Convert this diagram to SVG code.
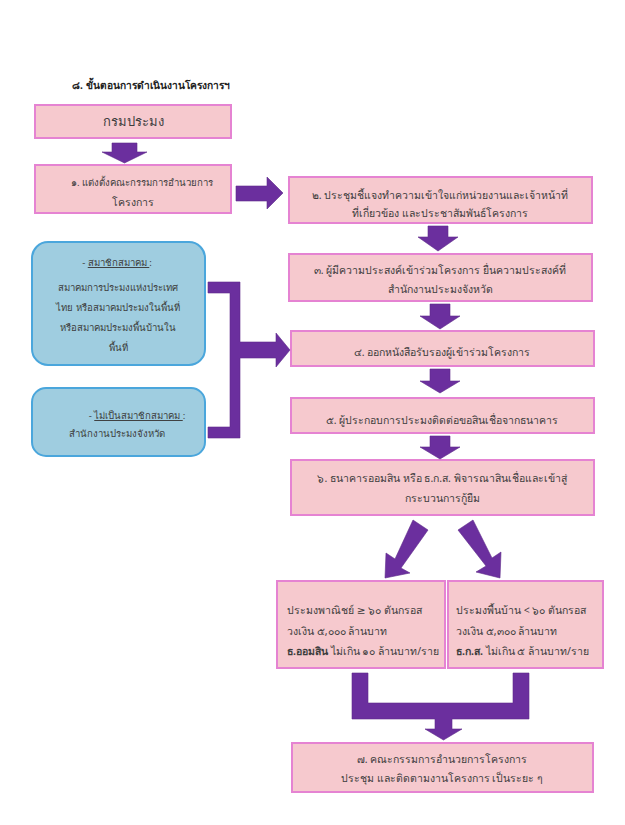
<svg xmlns="http://www.w3.org/2000/svg" width="625" height="825" viewBox="0 0 625 825">
<style>
.pk{fill:#f6c9ce;stroke:#e583d2;stroke-width:2}
.bl{fill:#9fcde0;stroke:#4aa6dc;stroke-width:2}
.ar{fill:#6b2f9e;stroke:#5e2a8a;stroke-width:0.6}
text{font-family:"Noto Sans","DejaVu Sans",sans-serif;fill:#3d3d3d;font-size:10.5px}
.c{text-anchor:middle}
.t{font-weight:bold;font-size:10.2px;fill:#222}
.u{text-decoration:underline}
.b{font-weight:bold}
.s{font-size:9.6px}
</style>
<rect width="625" height="825" fill="#ffffff"/>
<text class="t" x="72" y="89">๘. ขั้นตอนการดำเนินงานโครงการฯ</text>

<g id="node-dof"><rect class="pk" x="35" y="105" width="196" height="33"/><text class="c" x="133" y="126" style="font-size:13px">กรมประมง</text></g>
<g id="node-1"><rect class="pk" x="35" y="165" width="196" height="48"/><text class="c" x="142" y="186" style="font-size:9.6px">๑. แต่งตั้งคณะกรรมการอำนวยการ</text><text class="c" x="133" y="206">โครงการ</text></g>
<g id="node-2"><rect class="pk" x="289" y="177" width="303" height="46"/><text class="c" x="440" y="199">๒. ประชุมชี้แจงทำความเข้าใจแก่หน่วยงานและเจ้าหน้าที่</text><text class="c" x="440" y="217">ที่เกี่ยวข้อง และประชาสัมพันธ์โครงการ</text></g>
<g id="node-3"><rect class="pk" x="289" y="254" width="303" height="47"/><text class="c" x="440" y="274">๓. ผู้มีความประสงค์เข้าร่วมโครงการ ยื่นความประสงค์ที่</text><text class="c" x="440" y="293">สำนักงานประมงจังหวัด</text></g>
<g id="node-4"><rect class="pk" x="291" y="331" width="303" height="35"/><text class="c" x="442" y="356">๔. ออกหนังสือรับรองผู้เข้าร่วมโครงการ</text></g>
<g id="node-5"><rect class="pk" x="291" y="398" width="303" height="35"/><text class="c" x="442" y="424">๕. ผู้ประกอบการประมงติดต่อขอสินเชื่อจากธนาคาร</text></g>
<g id="node-6"><rect class="pk" x="291" y="460" width="303" height="55"/><text class="c" x="442" y="482">๖. ธนาคารออมสิน หรือ ธ.ก.ส. พิจารณาสินเชื่อและเข้าสู่</text><text class="c" x="442" y="502">กระบวนการกู้ยืม</text></g>
<g id="node-a"><rect class="bl" x="32" y="242" width="173" height="123" rx="16"/><text class="c s" x="117" y="266"><tspan>- </tspan><tspan class="u">สมาชิกสมาคม </tspan><tspan>:</tspan></text><text class="c s" x="118" y="291">สมาคมการประมงแห่งประเทศ</text><text class="c s" x="118" y="311">ไทย หรือสมาคมประมงในพื้นที่</text><text class="c s" x="118" y="331">หรือสมาคมประมงพื้นบ้านใน</text><text class="c s" x="118" y="351">พื้นที่</text></g>
<g id="node-b"><rect class="bl" x="32" y="388" width="173" height="68" rx="14"/><text class="c s" x="137" y="419"><tspan>- </tspan><tspan class="u">ไม่เป็นสมาชิกสมาคม </tspan><tspan>:</tspan></text><text class="c s" x="117" y="437">สำนักงานประมงจังหวัด</text></g>
<g id="node-comm"><rect class="pk" x="277" y="581" width="168" height="87"/><text x="287" y="614">ประมงพาณิชย์ ≥ ๖๐ ตันกรอส</text><text x="287" y="635">วงเงิน ๕,๐๐๐ ล้านบาท</text><text x="287" y="655"><tspan class="b">ธ.ออมสิน</tspan> ไม่เกิน ๑๐ ล้านบาท/ราย</text></g>
<g id="node-local"><rect class="pk" x="448" y="581" width="155" height="87"/><text x="456" y="614">ประมงพื้นบ้าน &lt; ๖๐ ตันกรอส</text><text x="456" y="635">วงเงิน ๕,๓๐๐ ล้านบาท</text><text x="456" y="655"><tspan class="b">ธ.ก.ส.</tspan> ไม่เกิน ๕ ล้านบาท/ราย</text></g>
<g id="node-7"><rect class="pk" x="292" y="743" width="301" height="49"/><text class="c" x="442" y="763">๗. คณะกรรมการอำนวยการโครงการ</text><text class="c" x="442" y="782">ประชุม และติดตามงานโครงการ เป็นระยะ ๆ</text></g>

<g id="connectors">
<polygon class="ar" points="112,143 137,143 137,152 147,152 124.5,163 102,152 112,152"/>
<polygon class="ar" points="236,186 267,186 267,177 283,193 267,209 267,201 236,201"/>
<polygon class="ar" points="428,226 448,226 448,237 458,237 438,251 418,237 428,237"/>
<polygon class="ar" points="430,304 450,304 450,316 460,316 440,329 420,316 430,316"/>
<polygon class="ar" points="430,369 450,369 450,381 460,381 440,393 420,381 430,381"/>
<polygon class="ar" points="430,436 450,436 450,447 460,447 440,459 420,447 430,447"/>
<polygon class="ar" points="208,282 240,282 240,342 276,342 276,333 290,350 276,367 276,358 240,358 240,438 208,438 208,427 230,427 230,293 208,293"/>
<polygon class="ar" points="413,520 428,530 401,568 410,573 385,578 386,553 395,559"/>
<polygon class="ar" points="458,530 473,520 492,558 501,552 500,578 476,572 486,566"/>
<polygon class="ar" points="352,673 368,673 368,703 513,703 513,673 529,673 529,719 452,719 452,729 462,729 443.5,740 425,729 435,729 435,719 352,719"/>
</g>
</svg>
